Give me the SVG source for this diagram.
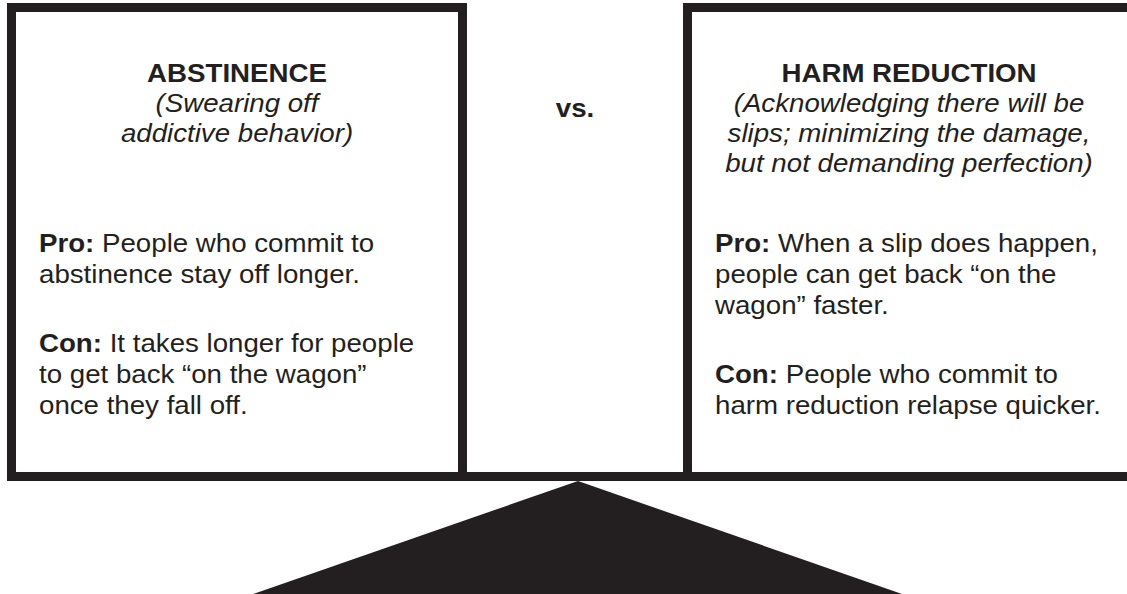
<svg xmlns="http://www.w3.org/2000/svg" width="1127" height="594" viewBox="0 0 1127 594">
  <style>
    .frame { fill: none; stroke: #231f20; stroke-width: 9; }
    .solid { fill: #231f20; }
    text { font-family: "Liberation Sans", Arial, Helvetica, sans-serif; font-size: 25px; fill: #231f20; }
    .title { font-weight: bold; text-anchor: middle; }
    .sub { font-style: italic; text-anchor: middle; }
    .b { font-weight: bold; }
    .vs { font-weight: bold; text-anchor: middle; }
  </style>
  <rect x="0" y="0" width="1127" height="594" fill="#ffffff"/>

  <g id="beam">
    <rect class="solid" x="7" y="472" width="1120" height="9"/>
  </g>

  <g id="abstinence">
    <rect class="frame" x="11.5" y="7.5" width="451" height="469"/>
    <g transform="translate(237 0) scale(1.107 1)">
      <text class="title" x="0" y="82">ABSTINENCE</text>
      <text class="sub" x="0" y="112">(Swearing off</text>
      <text class="sub" x="0" y="142">addictive behavior)</text>
    </g>
    <g transform="translate(39 0) scale(1.107 1)">
      <text x="0" y="252"><tspan class="b">Pro:</tspan> People who commit to</text>
      <text x="0" y="283">abstinence stay off longer.</text>
      <text x="0" y="352"><tspan class="b">Con:</tspan> It takes longer for people</text>
      <text x="0" y="383">to get back “on the wagon”</text>
      <text x="0" y="414">once they fall off.</text>
    </g>
  </g>

  <g id="versus">
    <g transform="translate(575 0) scale(1.107 1)">
      <text class="vs" x="0" y="117">vs.</text>
    </g>
  </g>

  <g id="harm-reduction">
    <path class="frame" d="M687.5 481 V7.5 H1140"/>
    <g transform="translate(909 0) scale(1.107 1)">
      <text class="title" x="0" y="82">HARM REDUCTION</text>
      <text class="sub" x="0" y="112">(Acknowledging there will be</text>
      <text class="sub" x="0" y="142">slips; minimizing the damage,</text>
      <text class="sub" x="0" y="172">but not demanding perfection)</text>
    </g>
    <g transform="translate(715 0) scale(1.107 1)">
      <text x="0" y="252"><tspan class="b">Pro:</tspan> When a slip does happen,</text>
      <text x="0" y="283">people can get back “on the</text>
      <text x="0" y="314">wagon” faster.</text>
      <text x="0" y="383"><tspan class="b">Con:</tspan> People who commit to</text>
      <text x="0" y="414">harm reduction relapse quicker.</text>
    </g>
  </g>

  <g id="fulcrum">
    <polygon class="solid" points="578,481 253,594 902,594"/>
  </g>

  <g id="connectors"></g>
</svg>
